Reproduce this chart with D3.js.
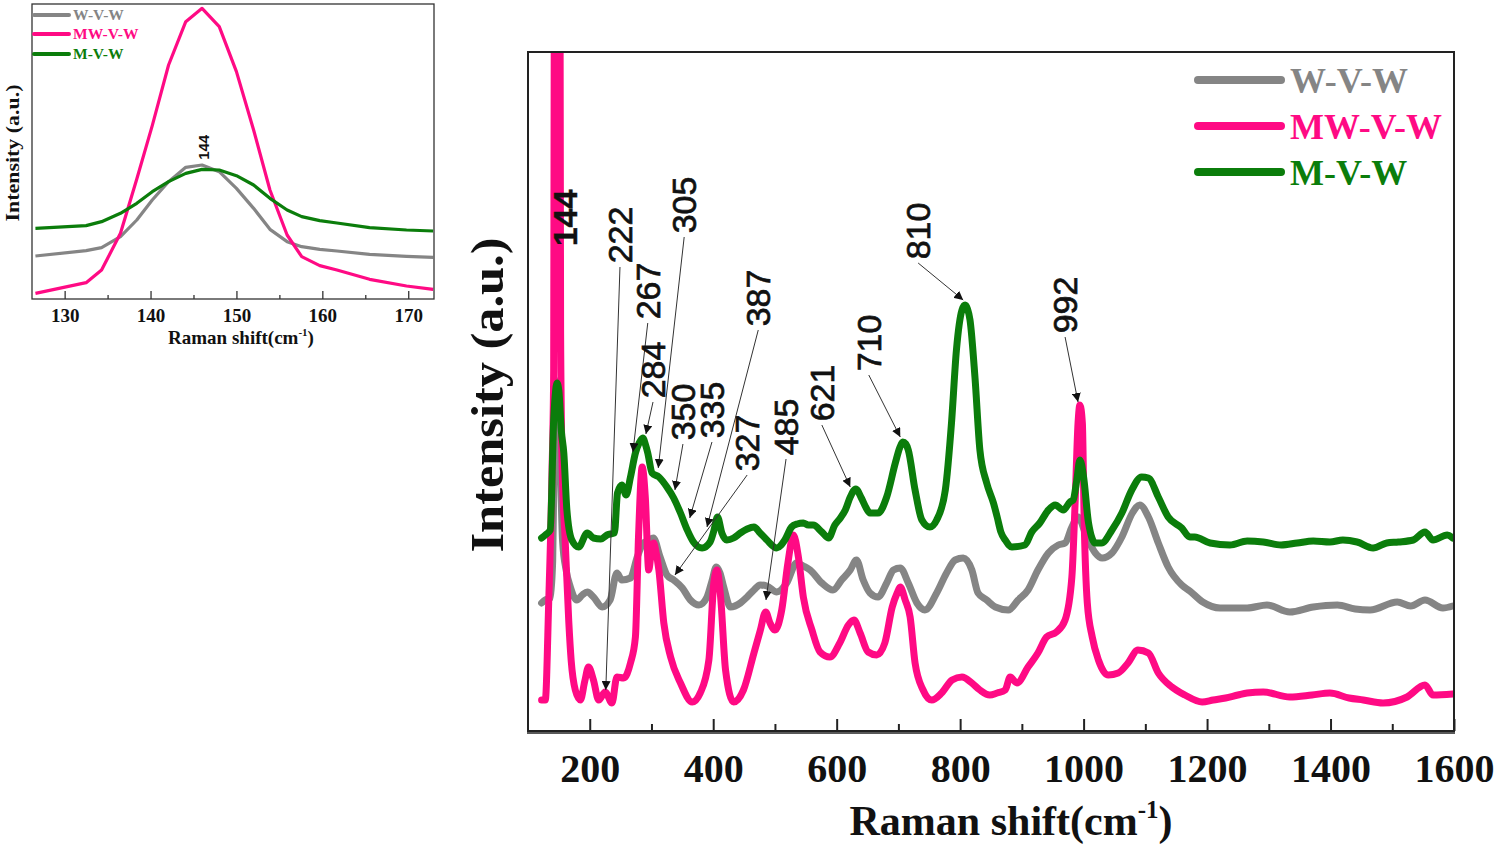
<!DOCTYPE html>
<html><head><meta charset="utf-8">
<script src="https://cdn.jsdelivr.net/npm/d3@7"></script>
<style>body{margin:0;background:#fff;} svg{display:block}</style>
</head><body>
<svg id="c" width="1500" height="847"></svg>
<script>
// ---------------- DATA ----------------
const seriesNames = ["W-V-W", "MW-V-W", "M-V-W"];

// Main spectrum (Raman shift in cm-1, intensity in a.u.)
const wvwShift = [122,128,136,140,143,147,150,153,156,162,168.6,179,188,196,206,220,233,244,252,266,277,287,295,303,314,325,336,350,363,377,390,398,405,411,417,428,444,455,466,476,487,503,519,535,546,557,576,594,608,622,632,643,654,667,681,692,703,716,730,743,762,778,792,805,819,829,843,857,878,894,910,926,943,959,970,981,991,1005,1019,1030,1046,1062,1079,1091,1105,1121,1137,1159,1172,1193,1221,1245,1265,1297,1334,1372,1411,1440,1464,1508,1530,1553,1582,1598];
const wvwIntensity = [128,131,133,170,300,350,320,250,190,160,144,131,136,139,134,124,131,158,151,153,174,188,190,193,174,156,151,143,131,126,134,150,164,158,144,124,128,134,141,146,145,139,148,168,165,161,148,141,151,161,171,151,138,134,148,161,163,148,128,121,138,158,171,173,161,138,131,124,121,131,141,161,178,186,188,204,214,194,178,173,178,194,218,226,214,188,164,146,140,129,123,123,123,126,119,124,126,122,121,129,125,131,123,125];

const mwvwShift = [122,128,133.5,139,141.6,142.5,147,152,152.8,155.5,160,166,170,176.6,184.8,192,198,206,214.5,225,236,244,255,266,274,279,285,290,295.6,299,303.6,307,312,320,331,347,366,379,393,401,406,412,420,433,449,466,476,485,492,500,511,521,530,538,546,560,573,589,605,619,628,638,651,665,678,690,698,703,711,719,727,740,754,770,787,803,819,832,848,860,873,881,892,910,926,940,956,970,981,986,991,994,998,1001,1006,1014,1024,1040,1056,1072,1088,1105,1121,1143,1164,1192,1210,1230,1250,1265,1291,1334,1370,1399,1430,1453,1485,1524,1553,1566,1598];
const mwvwIntensity = [31,31,128,261,361,700,900,700,400,260,194,110,70,41,31,50,64,51,31,39,28,54,53,68,94,194,264,234,161,175,188,180,161,108,74,48,29,38,71,148,161,134,61,29,41,78,100,119,108,101,121,168,196,174,134,101,79,74,88,106,111,98,79,76,88,124,138,144,131,114,68,41,31,38,51,54,48,41,36,38,41,54,48,64,78,94,99,111,154,224,308,326,308,208,128,94,71,56,58,68,81,78,58,44,36,29,31,33,36,38,39,34,36,38,33,31,28,34,46,36,37];

const mvwShift = [122,128,136,141.6,144,147,150,154,158,163,171,182,196,206,218,228,240,245,252,259,266,274,280,286,290,294,301,312,325,336,347,358,368,382,395,401,407,414,422,433,444,455,466,476,487,503,516,527,536,546,554,562,576,587,597,606,614,622,631,640,647,654,667,681,695,702,707,712,716,727,738,751,762,776,786,794,803,808,812,816,824,832,843,854,860,866,873,884,905,916,929,943,954,967,978,983,989,994,1000,1008,1019,1029,1046,1062,1078,1094,1105,1121,1137,1159,1172,1180,1205,1237,1265,1291,1320,1346,1372,1399,1420,1443,1469,1491,1510,1534,1553,1566,1589,1598];
const mvwIntensity = [193,196,201,311,335,348,340,300,278,221,191,184,198,193,192,196,198,238,246,236,254,278,288,293,287,278,258,254,244,233,218,201,189,183,189,200,214,198,191,193,198,202,204,198,191,183,191,204,207,208,206,206,199,193,206,213,221,234,242,233,224,218,218,234,268,283,289,287,281,241,211,204,211,241,308,381,421,426,422,411,354,281,248,228,214,199,191,184,186,199,208,221,226,221,229,231,251,271,254,208,188,188,201,218,241,254,253,234,214,203,194,194,188,186,190,189,186,188,190,189,191,189,183,188,189,191,199,191,196,193];

// Inset (zoom on the 144 cm-1 band)
const insetShift = [126.6,132.5,134.3,136.5,138.4,140.2,142.1,144.1,146.0,148.0,150.0,152.0,153.9,155.9,157.6,159.7,161.7,165.5,169.8,172.9];
const insetWvw  = [129,145,154,187,237,297,352,395,402,382,332,272,209,172,157,149,144,134,128,125];
const insetMwvw = [17,49,87,197,360,520,702,832,872,817,682,507,327,192,127,100,87,59,39,29];
const insetMvw  = [212,220,232,257,287,322,352,377,389,387,370,342,302,267,247,235,228,214,207,204];

// Tick labels
const mainTicks = [200,400,600,800,1000,1200,1400,1600];
const mainMinorTicks = [300,500,700,900,1100,1300,1500];
const insetTicks = [130,140,150,160,170];
const insetMinorTicks = [135,145,155,165];

// Peak annotations: label, arrow tip (shift, intensity)
const peakLabels = ["144","222","267","284","305","350","335","327","387","485","621","710","810","992"];
const peakTipShift = [null,226,270,291,311,338,362,338,390,485.5,622,703,805,991];
const peakTipIntensity = [null,41,279,297,263,241,213,156,204,131,244,294,431,329];

// ---------------- LAYOUT ----------------
// label centres (in data units of the main chart)
const labelPos = [[160,513],[249,496],[294,440],[302.5,361],[353,526],[351,319],[398,321],[455,288],[473,433],[518,304],[576,338],[652,388],[732,500],[970,426]];

const colors = {"W-V-W":"#858585","MW-V-W":"#ff0a84","M-V-W":"#0b7d0b"};
const serif = "'Liberation Serif','Times New Roman',serif";
const sans = "'Liberation Sans',Arial,sans-serif";

const svg = d3.select("#c");
const defs = svg.append("defs");
defs.append("clipPath").attr("id","mainClip").append("rect")
  .attr("x",528).attr("y",52).attr("width",926).attr("height",679);
defs.append("clipPath").attr("id","insetClip").append("rect")
  .attr("x",32).attr("y",4).attr("width",402).attr("height",295);
defs.append("marker").attr("id","arrow").attr("viewBox","0 0 10 10")
  .attr("refX",10).attr("refY",5).attr("markerWidth",9).attr("markerHeight",9)
  .attr("markerUnits","userSpaceOnUse").attr("orient","auto")
  .append("path").attr("d","M0,0 L10,5 L0,10 z").attr("fill","#111");

// ---------------- MAIN CHART ----------------
const x = d3.scaleLinear().domain([100,1600]).range([528,1454]);
const y = d3.scaleLinear().domain([0,679]).range([731,52]);

const mainSeries = [
  {name:"W-V-W", s:wvwShift, v:wvwIntensity},
  {name:"MW-V-W", s:mwvwShift, v:mwvwIntensity},
  {name:"M-V-W", s:mvwShift, v:mvwIntensity}
];
const line = d3.line().x(d=>x(d[0])).y(d=>y(d[1])).curve(d3.curveMonotoneX);
const gMain = svg.append("g").attr("clip-path","url(#mainClip)");
mainSeries.forEach(sr=>{
  gMain.append("path").datum(sr.s.map((s,i)=>[s,sr.v[i]]))
    .attr("d",line).attr("fill","none").attr("stroke",colors[sr.name])
    .attr("stroke-width",7).attr("stroke-linejoin","round").attr("stroke-linecap","round");
});

// frame
svg.append("rect").attr("x",528).attr("y",52).attr("width",926).attr("height",679)
  .attr("fill","none").attr("stroke","#222").attr("stroke-width",2);
svg.append("line").attr("x1",527).attr("x2",1455).attr("y1",733).attr("y2",733)
  .attr("stroke","#222").attr("stroke-width",1.5);

// axis
const ax = svg.append("g").attr("transform","translate(0,731)")
  .call(d3.axisBottom(x).tickValues(mainTicks).tickFormat(d3.format("d")).tickSize(-12).tickSizeOuter(0).tickPadding(0));
ax.select(".domain").remove();
ax.selectAll(".tick line").attr("stroke","#222").attr("stroke-width",2);
ax.selectAll(".tick text").attr("y",51).attr("dy",0)
  .attr("font-family",serif).attr("font-weight","bold").attr("font-size",40).attr("fill","#111");
const axm = svg.append("g").attr("transform","translate(0,731)")
  .call(d3.axisBottom(x).tickValues(mainMinorTicks).tickSize(-7).tickFormat(""));
axm.select(".domain").remove();
axm.selectAll(".tick line").attr("stroke","#222").attr("stroke-width",2);

// axis titles
const xt = svg.append("text").attr("x",1011).attr("y",835).attr("text-anchor","middle")
  .attr("font-family",serif).attr("font-weight","bold").attr("font-size",42).attr("fill","#111");
xt.append("tspan").text("Raman shift(cm");
xt.append("tspan").text("-1").attr("font-size",25).attr("dy",-17);
xt.append("tspan").text(")").attr("dy",17);
svg.append("text").attr("transform","translate(503,395) rotate(-90)")
  .attr("text-anchor","middle").attr("font-family",serif).attr("font-weight","bold")
  .attr("font-size",46).attr("textLength",315).attr("lengthAdjust","spacingAndGlyphs")
  .attr("fill","#111").text("Intensity (a.u.)");

// peak annotations
const labelHalf = 29;
peakLabels.forEach((lab,i)=>{
  const cx = x(labelPos[i][0]), cy = y(labelPos[i][1]);
  svg.append("text").attr("transform",`translate(${cx},${cy}) rotate(-90)`)
    .attr("text-anchor","middle").attr("dominant-baseline","central")
    .attr("font-family",sans).attr("font-size",34).attr("font-weight", i===0?"bold":"normal")
    .attr("stroke","#111").attr("stroke-width", i===0?0.4:0.7)
    .attr("fill","#111").text(lab);
  if (peakTipShift[i] !== null) {
    svg.append("line").attr("x1",cx).attr("y1",cy+labelHalf+3)
      .attr("x2",x(peakTipShift[i])).attr("y2",y(peakTipIntensity[i]))
      .attr("stroke","#333").attr("stroke-width",1).attr("marker-end","url(#arrow)");
  }
});

// legend
const legY = [80,126,172];
seriesNames.forEach((n,i)=>{
  svg.append("line").attr("x1",1198).attr("x2",1281).attr("y1",legY[i]).attr("y2",legY[i])
    .attr("stroke",colors[n]).attr("stroke-width",8).attr("stroke-linecap","round");
  svg.append("text").attr("x",1290).attr("y",legY[i]+13).attr("font-family",serif)
    .attr("font-weight","bold").attr("font-size",36).attr("fill",colors[n]).text(n);
});

// ---------------- INSET ----------------
const xi = d3.scaleLinear().domain([126.2,173.0]).range([32,434]);
const yi = d3.scaleLinear().domain([0,885]).range([299,4]);
const lineI = d3.line().x(d=>xi(d[0])).y(d=>yi(d[1]));
const gIn = svg.append("g").attr("clip-path","url(#insetClip)");
[["W-V-W",insetWvw],["MW-V-W",insetMwvw],["M-V-W",insetMvw]].forEach(([n,vals])=>{
  gIn.append("path").datum(insetShift.map((s,i)=>[s,vals[i]])).attr("d",lineI)
    .attr("fill","none").attr("stroke",colors[n]).attr("stroke-width",3.2).attr("stroke-linejoin","round");
});
svg.append("rect").attr("x",32).attr("y",4).attr("width",402).attr("height",295)
  .attr("fill","none").attr("stroke","#333").attr("stroke-width",1.3);
const axi = svg.append("g").attr("transform","translate(0,299)")
  .call(d3.axisBottom(xi).tickValues(insetTicks).tickSize(-8).tickSizeOuter(0));
axi.select(".domain").remove();
axi.selectAll(".tick line").attr("stroke","#333").attr("stroke-width",1.3);
axi.selectAll(".tick text").attr("y",23).attr("dy",0).attr("font-family",serif)
  .attr("font-weight","bold").attr("font-size",19).attr("fill","#111");
const axim = svg.append("g").attr("transform","translate(0,299)")
  .call(d3.axisBottom(xi).tickValues(insetMinorTicks).tickSize(-4).tickFormat(""));
axim.select(".domain").remove();
axim.selectAll(".tick line").attr("stroke","#333").attr("stroke-width",1.3);

const xti = svg.append("text").attr("x",241).attr("y",344).attr("text-anchor","middle")
  .attr("font-family",serif).attr("font-weight","bold").attr("font-size",19).attr("fill","#111");
xti.append("tspan").text("Raman shift(cm");
xti.append("tspan").text("-1").attr("font-size",11).attr("dy",-8);
xti.append("tspan").text(")").attr("dy",8);
svg.append("text").attr("transform","translate(19,153) rotate(-90)").attr("text-anchor","middle")
  .attr("font-family",serif).attr("font-weight","bold").attr("font-size",19)
  .attr("textLength",137).attr("lengthAdjust","spacingAndGlyphs").attr("fill","#111").text("Intensity (a.u.)");
svg.append("text").attr("transform",`translate(${xi(146.2)},${yi(455)}) rotate(-90)`)
  .attr("text-anchor","middle").attr("dominant-baseline","central")
  .attr("font-family",sans).attr("font-weight","bold").attr("font-size",15).attr("fill","#111").text("144");
const legYi = [15,34,54];
seriesNames.forEach((n,i)=>{
  svg.append("line").attr("x1",34).attr("x2",69).attr("y1",legYi[i]).attr("y2",legYi[i])
    .attr("stroke",colors[n]).attr("stroke-width",4).attr("stroke-linecap","round");
  svg.append("text").attr("x",73).attr("y",legYi[i]+5).attr("font-family",serif)
    .attr("font-weight","bold").attr("font-size",15.5).attr("fill",colors[n]).text(n);
});
</script>
</body></html>
